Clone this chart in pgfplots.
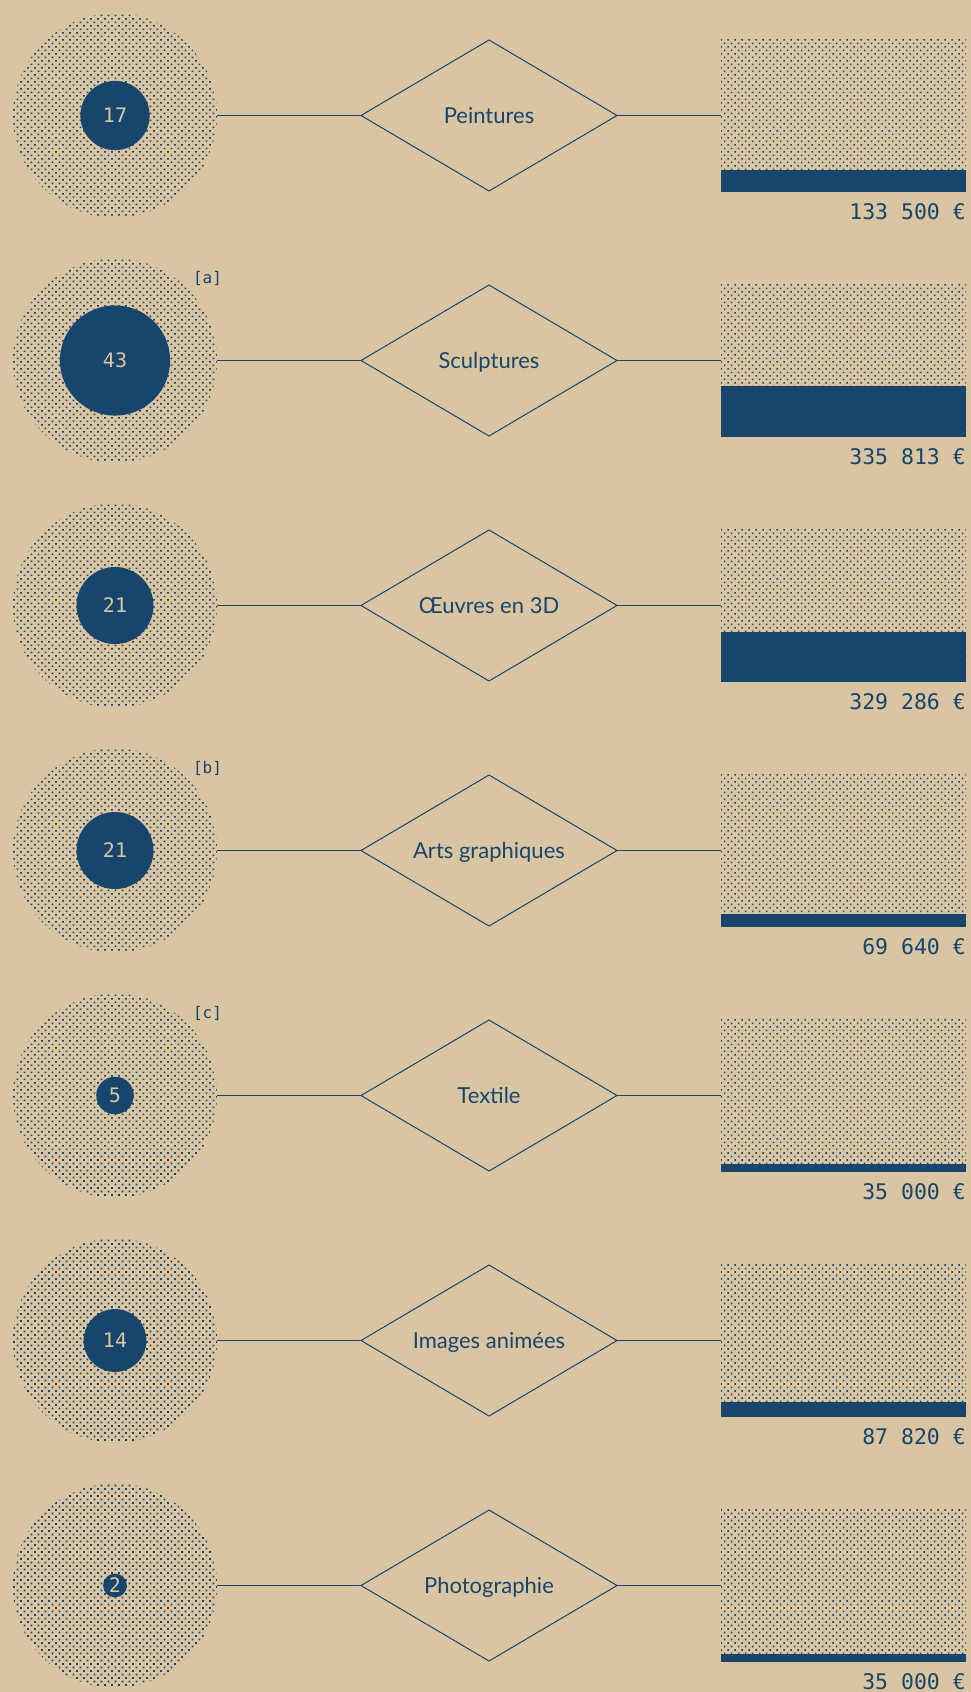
\documentclass[border=0pt]{standalone}
\usepackage{fontspec}
\setmainfont{Lato}
\newfontfamily\monofont{DejaVu Sans Mono}
\usepackage{pgfplots}
\pgfplotsset{compat=1.18}
\usepackage{pgfplotstable}
\usetikzlibrary{patterns.meta}
\definecolor{bg}{RGB}{218,197,163}
\definecolor{navy}{RGB}{23,69,107}

\tikzset{dotfill/.style={draw=none, pattern={Dots[distance=4.95pt, radius=1.1pt, angle=45]}, pattern color=navy}}

\pgfdeclareplotmark{patcircle}{\path[dotfill] (0pt,0pt) circle[radius=102pt];}
\pgfdeclareplotmark{patrect}{\path[dotfill] (0pt,0pt) rectangle (245pt,152pt);}
\pgfdeclareplotmark{vbar}{\path[fill=navy, draw=none] (0pt,0pt) rectangle (245pt,\pgfplotmarksize);}
\pgfdeclareplotmark{disc}{\path[fill=navy, draw=none] (0pt,0pt) circle[radius=\pgfplotmarksize];}
\pgfdeclareplotmark{link}{%
  \path[draw=navy, fill=none, line width=1pt, line join=miter] (-128pt,0pt) -- (0pt,75.5pt) -- (128pt,0pt) -- (0pt,-75.5pt) -- cycle;
  \path[draw=navy, fill=none, line width=1.1pt] (-272pt,0pt) -- (-128pt,0pt) (128pt,0pt) -- (232pt,0pt);}

\pgfplotstableread[col sep=comma]{
yc,n,val,lab
115.5,17,133500,Peintures
360.5,43,335813,Sculptures
605.5,21,329286,Œuvres en 3D
850.5,21,69640,Arts graphiques
1095.5,5,35000,Textile
1340.5,14,87820,Images animées
1585.5,2,35000,Photographie
}\data

\pgfplotstableread[col sep=comma]{
yc,note
360.5,a
850.5,b
1095.5,c
}\notes

\begin{document}
\begin{tikzpicture}
\useasboundingbox (0pt,0pt) rectangle (971pt,1692pt);
\fill[bg] (0pt,0pt) rectangle (971pt,1692pt);
\begin{axis}[
  at={(0pt,0pt)}, anchor=south west,
  width=971pt, height=1692pt, scale only axis,
  xmin=0, xmax=971, ymin=0, ymax=1692, y dir=reverse,
  hide axis, clip=false,
]
% connecting lines and diamonds
\addplot[only marks, draw=none, mark=link, mark options={draw=navy}] table[x expr=489, y=yc]{\data};
% outer dotted circles
\addplot[only marks, draw=none, mark=patcircle, mark options={draw=none}] table[x expr=115, y=yc]{\data};
% inner circles (count)
\addplot[scatter, only marks, draw=none, mark=disc,
  scatter/use mapped color={draw=none, fill=navy},
  point meta=\thisrow{n},
  visualization depends on={8.4*sqrt(\thisrow{n}) \as \rad},
  scatter/@pre marker code/.append style={/tikz/mark size=\rad}]
  table[x expr=115, y=yc]{\data};
% count labels
\addplot[draw=none, mark=none, point meta=explicit symbolic,
  nodes near coords,
  every node near coord/.append style={font=\monofont\fontsize{20}{24}\selectfont, text=bg, anchor=base, yshift=-7.3pt, inner sep=0pt}]
  table[x expr=115, y=yc, meta=n]{\data};
% category labels
\addplot[draw=none, mark=none, point meta=explicit symbolic,
  nodes near coords,
  every node near coord/.append style={font=\fontsize{22}{26}\selectfont, text=navy, anchor=base, yshift=-7.9pt, inner sep=0pt}]
  table[x expr=489, y=yc, meta=lab]{\data};
% dotted rectangles
\addplot[only marks, draw=none, mark=patrect, mark options={draw=none}] table[x expr=721, y expr=\thisrow{yc}+76]{\data};
% value bars
\addplot[scatter, only marks, draw=none, mark=vbar,
  scatter/use mapped color={draw=none, fill=navy},
  point meta=\thisrow{val},
  visualization depends on={2+152*\thisrow{val}/1046000 \as \bh},
  scatter/@pre marker code/.append style={/tikz/mark size=\bh}]
  table[x expr=721, y expr=\thisrow{yc}+76]{\data};
% value labels
\addplot[draw=none, mark=none, point meta=\thisrow{val},
  nodes near coords={\pgfmathprintnumber[fixed, precision=0, 1000 sep={\ }, assume math mode=true]{\pgfplotspointmeta}\ €},
  every node near coord/.append style={font=\monofont\fontsize{21.5}{24}\selectfont, text=navy, anchor=east, inner sep=0pt}]
  table[x expr=966, y expr=\thisrow{yc}+96.5]{\data};
% notes
\addplot[draw=none, mark=none, point meta=explicit symbolic,
  nodes near coords={{}[\pgfplotspointmeta]},
  every node near coord/.append style={font=\monofont\fontsize{16}{18}\selectfont, text=navy, anchor=center, inner sep=0pt}]
  table[x expr=207.5, y expr=\thisrow{yc}-82.5, meta=note]{\notes};
\end{axis}
\end{tikzpicture}
\end{document}
